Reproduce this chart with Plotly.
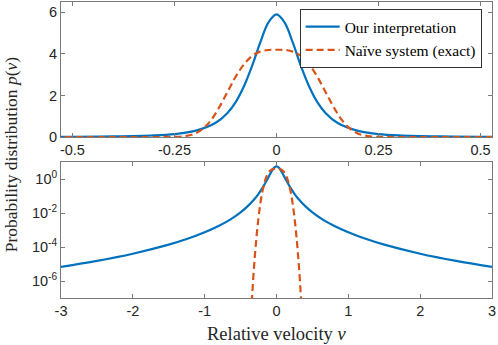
import plotly.graph_objects as go

# "Our interpretation" (blue)
v_blue = [-3.0, -2.5, -2.0, -1.5, -1.25, -1.0, -0.8, -0.65, -0.5, -0.4, -0.3, -0.25,
          -0.2, -0.15, -0.12, -0.1, -0.08, -0.06, -0.04, -0.02, 0.0,
          0.02, 0.04, 0.06, 0.08, 0.1, 0.12, 0.15, 0.2, 0.25, 0.3, 0.4, 0.5,
          0.65, 0.8, 1.0, 1.25, 1.5, 2.0, 2.5, 3.0]
p_blue = [6.9e-6, 1.55e-5, 4.1e-5, 1.4e-4, 3.0e-4, 7.6e-4, 1.85e-3, 4.1e-3, 0.0113, 0.0263,
          0.075, 0.141, 0.292, 0.671, 1.16, 1.68, 2.43, 3.41, 4.54, 5.51, 5.9,
          5.51, 4.54, 3.41, 2.43, 1.68, 1.16, 0.671, 0.292, 0.141, 0.075, 0.0263,
          0.0113, 4.1e-3, 1.85e-3, 7.6e-4, 3.0e-4, 1.4e-4, 4.1e-5, 1.55e-5, 6.9e-6]

# "Naive system (exact)" (red dashed)
v_red = [-0.6, -0.4, -0.36, -0.35, -0.325, -0.3, -0.275, -0.25, -0.225, -0.2, -0.18,
         -0.16, -0.14, -0.12, -0.1, -0.08, -0.06, -0.04, -0.02, 0.0,
         0.02, 0.04, 0.06, 0.08, 0.1, 0.12, 0.14, 0.16, 0.18, 0.2, 0.225,
         0.25, 0.275, 0.3, 0.325, 0.35, 0.36, 0.4, 0.6]
p_red = [0.0, 0.0, 1e-8, 2.6e-8, 1.2e-6, 3.5e-5, 5.7e-4, 5.7e-3, 0.037, 0.16, 0.40,
         0.82, 1.44, 2.17, 2.90, 3.49, 3.90, 4.11, 4.19, 4.20,
         4.19, 4.11, 3.90, 3.49, 2.90, 2.17, 1.44, 0.82, 0.40, 0.16, 0.037,
         5.7e-3, 5.7e-4, 3.5e-5, 1.2e-6, 2.6e-8, 1e-8, 0.0, 0.0]

top_xticks = [-0.5, -0.25, 0, 0.25, 0.5]
top_xlabels = ["-0.5", "-0.25", "0", "0.25", "0.5"]
top_yticks = [0, 2, 4, 6]
bot_xticks = [-3, -2, -1, 0, 1, 2, 3]
bot_xlabels = ["-3", "-2", "-1", "0", "1", "2", "3"]
bot_yticks = [1, 1e-2, 1e-4, 1e-6]
bot_ylabels = ["10<sup>0</sup>", "10<sup>-2</sup>", "10<sup>-4</sup>", "10<sup>-6</sup>"]

BLUE = "#0072BD"
RED = "#D95319"
SERIF = "Liberation Serif, DejaVu Serif, serif"
SANS = "Liberation Sans, Arial, sans-serif"

fig = go.Figure()

for ax, show in [("", True), ("2", False)]:
    fig.add_scatter(x=v_blue, y=p_blue, xaxis="x" + ax, yaxis="y" + ax,
                    mode="lines", line=dict(color=BLUE, width=2.2, shape="spline"),
                    name="Our interpretation", showlegend=show)
    fig.add_scatter(x=v_red, y=p_red, xaxis="x" + ax, yaxis="y" + ax,
                    mode="lines", line=dict(color=RED, width=2.2, dash="7px,4px", shape="spline"),
                    name="Naïve system (exact)", showlegend=show)

axis_style = dict(showline=True, linecolor="#7a7a7a", linewidth=1, mirror="ticks",
                  ticks="inside", ticklen=4, tickcolor="#7a7a7a", showgrid=False,
                  zeroline=False, tickfont=dict(family=SANS, size=14.5, color="#262626"))

fig.update_layout(
    width=498, height=345,
    margin=dict(l=61, r=6, t=2, b=47),
    plot_bgcolor="white", paper_bgcolor="white",
    xaxis=dict(domain=[0, 1], anchor="y", range=[-0.528, 0.528],
               tickmode="array", tickvals=top_xticks, ticktext=top_xlabels, **axis_style),
    yaxis=dict(domain=[0.544, 1], anchor="x", range=[0, 6.5],
               tickmode="array", tickvals=top_yticks, **axis_style),
    xaxis2=dict(domain=[0, 1], anchor="y2", range=[-3, 3],
                tickmode="array", tickvals=bot_xticks, ticktext=bot_xlabels, **axis_style),
    yaxis2=dict(domain=[0, 0.458], anchor="x2", type="log", range=[-7, 1],
                tickmode="array", tickvals=bot_yticks, ticktext=bot_ylabels, **axis_style),
    legend=dict(x=0.976, y=0.976, xanchor="right", yanchor="top",
                bgcolor="white", bordercolor="#333333", borderwidth=1,
                font=dict(family=SERIF, size=15.5, color="black"),
                tracegroupgap=0, itemwidth=34),
    showlegend=True,
)

fig.add_annotation(text="Probability distribution <i>p</i>(<i>v</i>)",
                   xref="paper", yref="paper", x=-0.114, y=0.485, textangle=-90,
                   xanchor="center", yanchor="middle",
                   showarrow=False, font=dict(family=SERIF, size=17.5, color="#262626"))
fig.add_annotation(text="Relative velocity <i>v</i>",
                   xref="paper", yref="paper", x=0.5, y=-0.12, xanchor="center", yanchor="middle",
                   showarrow=False, font=dict(family=SERIF, size=18.5, color="#262626"))

fig.write_html("out.html", config={"displayModeBar": False},
               post_script="document.body.style.margin='0';")
